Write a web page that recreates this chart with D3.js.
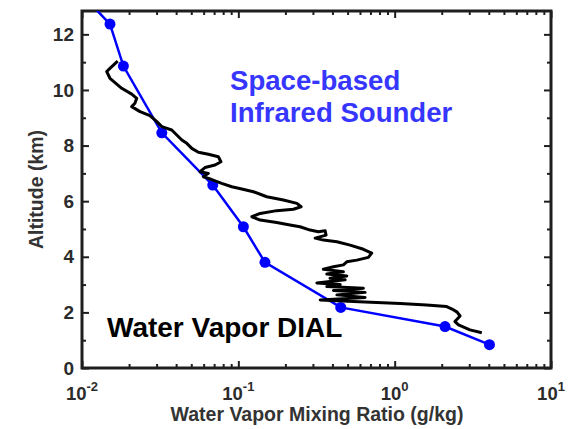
<!DOCTYPE html>
<html>
<head>
<meta charset="utf-8">
<script src="https://cdn.jsdelivr.net/npm/d3@7"></script>
<style>
  html, body { margin: 0; padding: 0; background: #fff; }
  svg { display: block; font-family: "Liberation Sans", Arial, sans-serif; }
</style>
</head>
<body>
<svg id="chart" width="569" height="429"></svg>
<script>
// ---- Data ----
// Space-based infrared sounder profile: mixing ratio (g/kg) and altitude (km)
const sounderMix = [0.0105, 0.0151, 0.0184, 0.0324, 0.0686, 0.1077, 0.148, 0.452, 2.10, 4.04];
const sounderAlt = [13.3, 12.37, 10.86, 8.46, 6.58, 5.08, 3.80, 2.18, 1.49, 0.84];

// Water vapor DIAL profile
const dialMix = [0.01692, 0.01474, 0.01439, 0.01510, 0.01795, 0.0208, 0.0224, 0.0218, 0.0208, 0.0235,
  0.0272, 0.0301, 0.0324, 0.0375, 0.0404, 0.0435, 0.0468, 0.0504, 0.0555, 0.0643,
  0.0745, 0.0774, 0.0710, 0.0612, 0.0569, 0.0643, 0.0597, 0.0659, 0.0710, 0.0783,
  0.0908, 0.1052, 0.1248, 0.152, 0.194, 0.237, 0.252, 0.225, 0.176, 0.138,
  0.122, 0.138, 0.176, 0.214, 0.248, 0.288, 0.325, 0.359, 0.364, 0.310,
  0.350, 0.427, 0.519, 0.631, 0.713, 0.679, 0.573, 0.494, 0.470, 0.406,
  0.350, 0.470, 0.368, 0.494, 0.386, 0.482, 0.318, 0.448, 0.368, 0.631,
  0.406, 0.647, 0.427, 0.647, 0.334, 0.545, 0.767, 1.084, 1.60, 2.15,
  2.33, 2.51, 2.62, 2.43, 2.56, 3.03, 3.61];
const dialAlt = [11.04, 10.72, 10.66, 10.42, 10.06, 9.85, 9.70, 9.52, 9.40, 9.22,
  9.08, 8.86, 8.68, 8.56, 8.38, 8.20, 8.08, 7.90, 7.76, 7.69,
  7.60, 7.42, 7.30, 7.21, 7.06, 7.00, 6.88, 6.80, 6.73, 6.64,
  6.52, 6.44, 6.34, 6.16, 6.04, 5.92, 5.80, 5.71, 5.66, 5.56,
  5.44, 5.32, 5.23, 5.14, 5.08, 4.96, 4.90, 4.94, 4.78, 4.67,
  4.60, 4.54, 4.42, 4.27, 4.13, 3.98, 3.88, 3.82, 3.71, 3.64,
  3.55, 3.46, 3.38, 3.31, 3.23, 3.17, 3.06, 3.00, 2.93, 2.87,
  2.79, 2.72, 2.63, 2.54, 2.45, 2.39, 2.36, 2.32, 2.27, 2.21,
  2.12, 2.01, 1.87, 1.67, 1.55, 1.37, 1.27];

// Axis ticks and labels
const xMajorTicks = [0.01, 0.1, 1, 10];
const xTickExponents = ["-2", "-1", "0", "1"];
const yMajorTicks = [0, 2, 4, 6, 8, 10, 12];
const yMinorTicks = [1, 3, 5, 7, 9, 11];
const xDomain = [0.01, 10];
const yDomain = [0, 12.84];

const xTitle = "Water Vapor Mixing Ratio (g/kg)";
const yTitle = "Altitude (km)";
const sounderLabel = ["Space-based", "Infrared Sounder"];
const dialLabel = "Water Vapor DIAL";

// ---- Layout ----
const L = 82, R = 551, T = 11, B = 368;
const svg = d3.select("#chart");
const x = d3.scaleLog().domain(xDomain).range([L, R]);
const y = d3.scaleLinear().domain(yDomain).range([B, T]);

const xMinorTicks = [];
for (let e = -2; e < 1; e++) for (let m = 2; m <= 9; m++) xMinorTicks.push(m * Math.pow(10, e));

const axisColor = "#1e1e1e";
const textColor = "#2b2b2b";

svg.append("defs").append("clipPath").attr("id", "plotclip")
  .append("rect").attr("x", L).attr("y", T).attr("width", R - L).attr("height", B - T);

function styleAxis(g) {
  g.select(".domain").remove();
  g.selectAll(".tick line").attr("stroke", axisColor).attr("stroke-width", 2);
  g.selectAll(".tick text").remove();
}

// bottom / top
svg.append("g").attr("transform", `translate(0,${B})`)
  .call(d3.axisBottom(x).tickValues(xMajorTicks).tickSize(-7)).call(styleAxis);
svg.append("g").attr("transform", `translate(0,${B})`)
  .call(d3.axisBottom(x).tickValues(xMinorTicks).tickSize(-4)).call(styleAxis);
svg.append("g").attr("transform", `translate(0,${T})`)
  .call(d3.axisTop(x).tickValues(xMajorTicks).tickSize(-7)).call(styleAxis);
svg.append("g").attr("transform", `translate(0,${T})`)
  .call(d3.axisTop(x).tickValues(xMinorTicks).tickSize(-4)).call(styleAxis);
// left / right
svg.append("g").attr("transform", `translate(${L},0)`)
  .call(d3.axisLeft(y).tickValues(yMajorTicks).tickSize(-7)).call(styleAxis);
svg.append("g").attr("transform", `translate(${L},0)`)
  .call(d3.axisLeft(y).tickValues(yMinorTicks).tickSize(-4)).call(styleAxis);
svg.append("g").attr("transform", `translate(${R},0)`)
  .call(d3.axisRight(y).tickValues(yMajorTicks).tickSize(-7)).call(styleAxis);
svg.append("g").attr("transform", `translate(${R},0)`)
  .call(d3.axisRight(y).tickValues(yMinorTicks).tickSize(-4)).call(styleAxis);

// frame
svg.append("rect").attr("x", L).attr("y", T).attr("width", R - L).attr("height", B - T)
  .attr("fill", "none").attr("stroke", axisColor).attr("stroke-width", 3);

// x tick labels with superscripts
const xl = svg.append("g").selectAll("text").data(xMajorTicks).join("text")
  .attr("x", d => x(d)).attr("y", 399.5)
  .attr("text-anchor", "middle")
  .attr("font-weight", "bold").attr("font-size", 18.5).attr("fill", textColor);
xl.append("tspan").text("10");
xl.append("tspan").attr("dy", -8.5).attr("font-size", 13).text((d, i) => xTickExponents[i]);

// y tick labels
svg.append("g").selectAll("text").data(yMajorTicks).join("text")
  .attr("x", 74).attr("y", d => y(d)).attr("dy", "0.35em")
  .attr("text-anchor", "end")
  .attr("font-weight", "bold").attr("font-size", 19).attr("fill", textColor)
  .text(d => d);

// axis titles
svg.append("text").attr("x", 317).attr("y", 420.5).attr("text-anchor", "middle")
  .attr("font-weight", "bold").attr("font-size", 19.5).attr("fill", "#333").text(xTitle);
svg.append("text").attr("transform", `translate(43,${(T + B) / 2}) rotate(-90)`)
  .attr("text-anchor", "middle")
  .attr("font-weight", "bold").attr("font-size", 19.5).attr("fill", "#333").text(yTitle);

// data
const plot = svg.append("g").attr("clip-path", "url(#plotclip)");
const sounder = sounderMix.map((v, i) => ({ x: v, y: sounderAlt[i] }));
const dial = dialMix.map((v, i) => ({ x: v, y: dialAlt[i] }));
const line = d3.line().x(d => x(d.x)).y(d => y(d.y));

plot.append("path").datum(sounder).attr("d", line)
  .attr("fill", "none").attr("stroke", "#0000ff").attr("stroke-width", 2.5);
plot.selectAll("circle").data(sounder.filter(d => d.y <= yDomain[1])).join("circle")
  .attr("cx", d => x(d.x)).attr("cy", d => y(d.y)).attr("r", 5.5).attr("fill", "#0000ff");
plot.append("path").datum(dial).attr("d", line)
  .attr("fill", "none").attr("stroke", "#000").attr("stroke-width", 3)
  .attr("stroke-linejoin", "round");

// annotations
const sl = svg.append("text").attr("font-weight", "bold").attr("font-size", 27.6).attr("fill", "#3636ff");
sl.selectAll("tspan").data(sounderLabel).join("tspan")
  .attr("x", 230).attr("y", (d, i) => 90 + i * 31.5).text(d => d);
svg.append("text").attr("x", 107).attr("y", 336.5)
  .attr("font-weight", "bold").attr("font-size", 28).attr("fill", "#000").text(dialLabel);
</script>
</body>
</html>
